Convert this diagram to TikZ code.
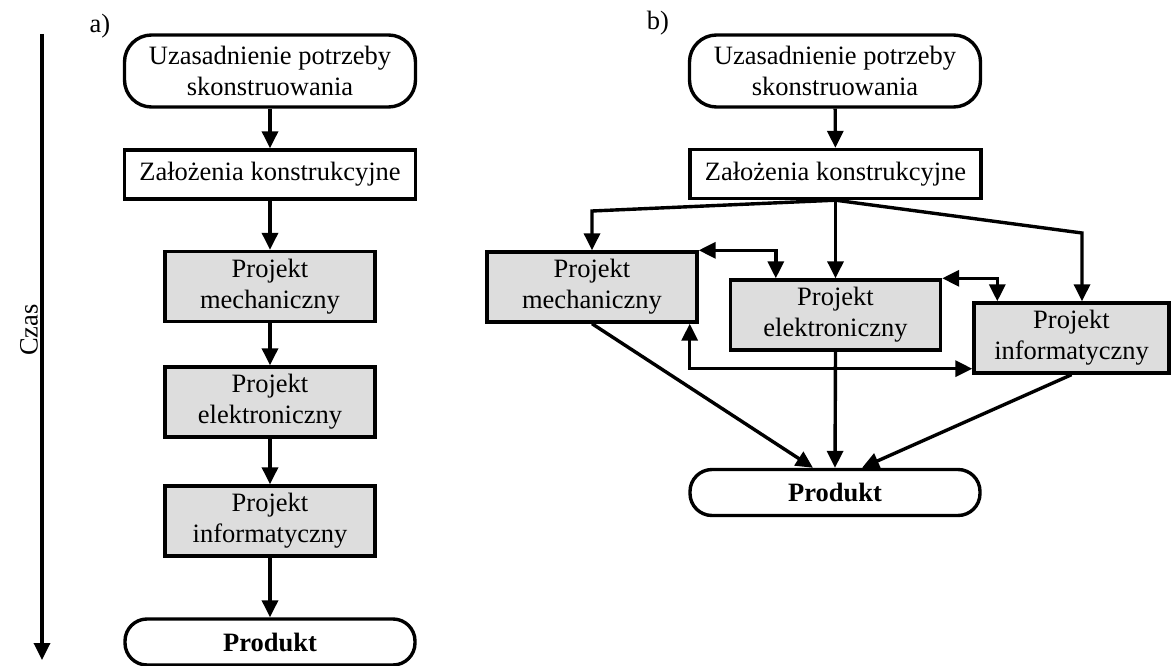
\documentclass[tikz,border=0pt]{standalone}
\usepackage{fontspec}
\setmainfont{Liberation Serif}
\usetikzlibrary{arrows.meta}
\definecolor{projgray}{RGB}{221,221,221}

\begin{document}
\begin{tikzpicture}[x=1pt, y=-1pt, line width=3.4pt,
		>={Triangle[length=17pt,width=16pt]},
		font=\fontsize{26.5pt}{31pt}\selectfont,
		startbox/.style={draw, rounded corners=27pt, align=center, inner sep=0pt, minimum width=291pt, minimum height=72pt},
		goalbox/.style={draw, rounded corners=22pt, inner sep=0pt, minimum width=290pt, minimum height=46pt, font=\fontsize{26.5pt}{31pt}\selectfont\bfseries},
		zalbox/.style={draw, inner sep=0pt, minimum width=291pt, minimum height=49pt},
		projbox/.style={draw, fill=projgray, align=center, inner sep=0pt, minimum width=210pt, minimum height=70pt}]
		\useasboundingbox (0,0) rectangle (1172,666);
		% a) kolejno
		\node (labA) at (100,26) {a)};
		\node[rotate=90] (czas) at (29,330) {Czas};
		\coordinate (tStart) at (42,34);
		\coordinate (tEnd) at (42,660);
		\draw[->] (tStart) -- (tEnd);
		\node[startbox] (uzA) at (270,71) {Uzasadnienie potrzeby\\skonstruowania};
		\node[zalbox] (zalA) at (270,174.5) {Założenia konstrukcyjne};
		\node[projbox] (mechA) at (270,286.5) {Projekt\\mechaniczny};
		\node[projbox] (elekA) at (270,402) {Projekt\\elektroniczny};
		\node[projbox] (infA) at (270,521) {Projekt\\informatyczny};
		\node[goalbox] (prodA) at (270,642) {Produkt};
		\draw[->] (uzA) -- (zalA);
		\draw[->] (zalA) -- (mechA);
		\draw[->] (mechA) -- (elekA);
		\draw[->] (elekA) -- (infA);
		\draw[->] (infA) -- (prodA);
		% b) rownolegle
		\node (labB) at (658,23) {b)};
		\node[startbox] (uzB) at (835,71) {Uzasadnienie potrzeby\\skonstruowania};
		\node[zalbox] (zalB) at (835.5,174) {Założenia konstrukcyjne};
		\node[projbox] (mechB) at (592,287) {Projekt\\mechaniczny};
		\node[projbox] (elekB) at (835.5,315) {Projekt\\elektroniczny};
		\node[projbox, minimum width=195pt] (infB) at (1071.5,338) {Projekt\\informatyczny};
		\node[goalbox] (prodB) at (835,492.5) {Produkt};
		\coordinate (fanL) at (592,211);
		\coordinate (fanR) at (1082,233);
		\draw[->] (uzB) -- (zalB);
		\draw[->] (zalB.south) -- (fanL) -- (mechB.north);
		\draw[->] (zalB.south) -- (elekB.north);
		\draw[->] (zalB.south) -- (fanR) -- (fanR |- infB.north);
		\draw[<->] (mechB.north east) -| ([xshift=47pt]elekB.north west);
		\draw[<->] (elekB.north east) -| ([xshift=25pt]infB.north west);
		\draw[<->] ([xshift=-9pt]mechB.south east) |- ([yshift=6pt]infB.south west);
		\draw[->] (mechB.south) -- ([xshift=-22pt]prodB.north);
		\draw[->] (elekB.south) -- (prodB.north);
		\draw[->] (infB.south) -- ([xshift=27pt]prodB.north);
\end{tikzpicture}
\end{document}
